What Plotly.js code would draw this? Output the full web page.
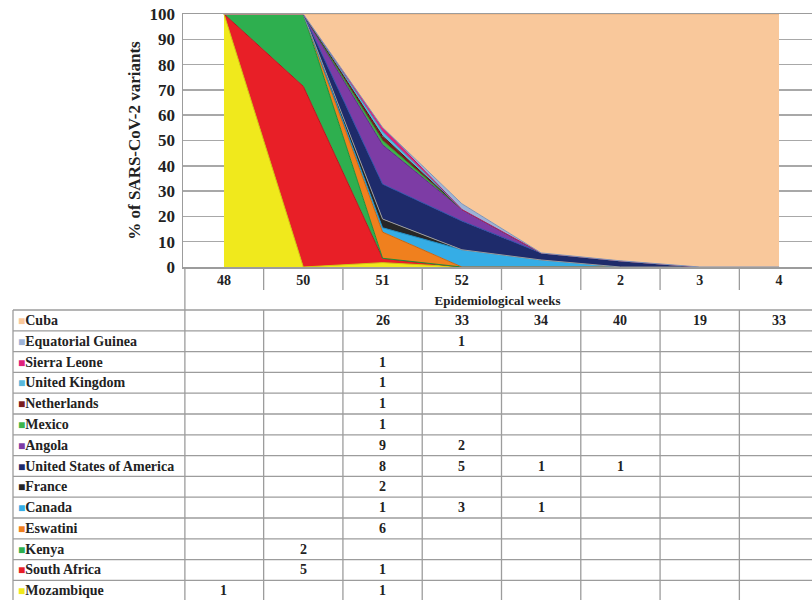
<!DOCTYPE html>
<html>
<head>
<meta charset="utf-8">
<script src="https://cdn.plot.ly/plotly-3.0.1.min.js"></script>
<style>html,body{margin:0;padding:0;background:#fff;}#chart{width:812px;height:600px;}</style>
</head>
<body>
<div id="chart"></div>
<script>
// ---- data (counts per epidemiological week; null = empty cell) ----
const weeks = ['48', '50', '51', '52', '1', '2', '3', '4'];
const countries = ['Cuba', 'Equatorial Guinea', 'Sierra Leone', 'United Kingdom', 'Netherlands', 'Mexico',
  'Angola', 'United States of America', 'France', 'Canada', 'Eswatini', 'Kenya', 'South Africa', 'Mozambique'];
const cuba             = [null, null, 26, 33, 34, 40, 19, 33];
const equatorialGuinea = [null, null, null, 1, null, null, null, null];
const sierraLeone      = [null, null, 1, null, null, null, null, null];
const unitedKingdom    = [null, null, 1, null, null, null, null, null];
const netherlands      = [null, null, 1, null, null, null, null, null];
const mexico           = [null, null, 1, null, null, null, null, null];
const angola           = [null, null, 9, 2, null, null, null, null];
const usa              = [null, null, 8, 5, 1, 1, null, null];
const france           = [null, null, 2, null, null, null, null, null];
const canada           = [null, null, 1, 3, 1, null, null, null];
const eswatini         = [null, null, 6, null, null, null, null, null];
const kenya            = [null, 2, null, null, null, null, null, null];
const southAfrica      = [null, 5, 1, null, null, null, null, null];
const mozambique       = [1, null, 1, null, null, null, null, null];
const series = [cuba, equatorialGuinea, sierraLeone, unitedKingdom, netherlands, mexico,
  angola, usa, france, canada, eswatini, kenya, southAfrica, mozambique];

// ---- styles ----
const colors = ['#F9C89B', '#9DB3D6', '#E0207A', '#59B9DC', '#7A1C1C', '#3DB54A',
  '#7D3CA5', '#1E2B6B', '#262626', '#35ADE6', '#F0801E', '#2EAF4F', '#E81F27', '#F0E91C'];
const edges = ['#E9AD7C', '#7F95B8', '#B8105E', '#3E9CC0', '#561010', '#2A9436',
  '#5F2685', '#2E4FA8', '#9A9A9A', '#1E8CC4', '#C9640F', '#1E8E3A', '#B8141B', '#CFC80E'];
const FONT = 'Liberation Serif, Times New Roman, serif';

// plot area pixels
const W = 812, H = 600, L = 183, T = 14, B = 267;
const px2x = p => (p - L) / (W - L);
const px2y = p => (B - p) / (B - T);

// ---- traces: stacked 100% area, bottom = Mozambique ----
const traces = [];
for (let i = series.length - 1; i >= 0; i--) {
  traces.push({
    type: 'scatter', mode: 'lines', x: weeks, y: series[i].map(v => v === null ? 0 : v),
    name: countries[i], stackgroup: 'one', groupnorm: 'percent',
    fillcolor: colors[i], line: {color: edges[i], width: 1, shape: 'linear'},
    hoverinfo: 'skip', showlegend: false
  });
}

// ---- table ----
const shapes = [], annotations = [];
const gridCol = '#9c9c9c';
const tableTop = 310, rowH = 20.8, tableBottom = tableTop + rowH * countries.length;
for (let k = 0; k <= countries.length; k++) {
  const y = px2y(tableTop + k * rowH);
  shapes.push({type: 'line', xref: 'paper', yref: 'paper', x0: px2x(13), x1: 1.02, y0: y, y1: y,
    line: {color: gridCol, width: 1.3}});
}
shapes.push({type: 'line', xref: 'paper', yref: 'paper', x0: px2x(13), x1: px2x(13), y0: px2y(tableTop), y1: px2y(tableBottom), line: {color: gridCol, width: 1.3}});
shapes.push({type: 'line', xref: 'paper', yref: 'paper', x0: 0.003, x1: 0.003, y0: 0, y1: px2y(tableBottom), line: {color: gridCol, width: 1.3}});
for (let c = 0; c < weeks.length; c++) {
  const x = c + 0.5;
  shapes.push({type: 'line', xref: 'x', yref: 'paper', x0: x, x1: x, y0: px2y(tableTop), y1: px2y(tableBottom), line: {color: gridCol, width: 1.3}});
  shapes.push({type: 'line', xref: 'x', yref: 'paper', x0: x, x1: x, y0: 0, y1: px2y(290), line: {color: gridCol, width: 1.3}});
}
countries.forEach((name, r) => {
  const yc = px2y(tableTop + rowH * (r + 0.5));
  annotations.push({xref: 'paper', yref: 'paper', x: px2x(16), y: yc, xanchor: 'left', yanchor: 'middle', showarrow: false,
    text: '<span style="color:' + colors[r] + ';font-size:12px">■</span>' + name,
    font: {family: FONT, size: 14, color: '#222', weight: 'bold'}});
  series[r].forEach((v, c) => {
    if (v === null) return;
    annotations.push({xref: 'x', yref: 'paper', x: c, y: yc, xanchor: 'center', yanchor: 'middle', showarrow: false,
      text: String(v), font: {family: FONT, size: 14, color: '#222', weight: 'bold'}});
  });
});

const layout = {
  width: W, height: H,
  margin: {l: L, r: 0, t: T, b: H - B, pad: 0},
  paper_bgcolor: '#fff', plot_bgcolor: '#fff',
  showlegend: false,
  hovermode: false,
  xaxis: {
    type: 'category', range: [-0.517, 7.416], showgrid: false, zeroline: false,
    showline: true, linecolor: gridCol, linewidth: 1.5, mirror: true,
    ticks: '', ticklabelstandoff: 0,
    tickfont: {family: FONT, size: 14, color: '#222', weight: 'bold'},
    title: {text: 'Epidemiological weeks', standoff: 8, font: {family: FONT, size: 13, color: '#222', weight: 'bold'}},
    automargin: false
  },
  yaxis: {
    range: [0, 100], dtick: 10, showgrid: true, gridcolor: '#a8a8a8', gridwidth: 1.5,
    zeroline: false, showline: true, linecolor: gridCol, linewidth: 1.5,
    ticks: '', ticklabelstandoff: 3,
    tickfont: {family: FONT, size: 17, color: '#222', weight: 'bold'},
    title: {text: '% of SARS-CoV-2 variants', standoff: 4, font: {family: FONT, size: 17, color: '#222', weight: 'bold'}},
    automargin: false
  },
  shapes: shapes,
  annotations: annotations
};

Plotly.newPlot('chart', traces, layout, {displayModeBar: false, staticPlot: true});
</script>
</body>
</html>
